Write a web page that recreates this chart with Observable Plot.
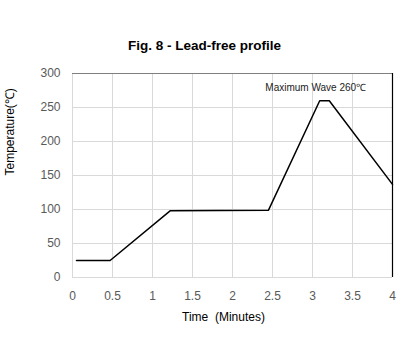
<!DOCTYPE html>
<html>
<head>
<meta charset="utf-8">
<script src="https://cdn.jsdelivr.net/npm/d3@7"></script>
<script src="https://cdn.jsdelivr.net/npm/@observablehq/plot@0.6"></script>
<style>
  html, body { margin: 0; padding: 0; background: #fff; }
  svg { display: block; }
</style>
</head>
<body>
<div id="chart"></div>
<script>
const title = "Fig. 8 - Lead-free profile";
const xLabel = "Time  (Minutes)";
const yLabel = "Temperature(℃)";
const timeMin = [0.05, 0.47, 1.22, 2.45, 3.09, 3.21, 4.0];
const tempC   = [25,   25,   98,   99,   260,  260,  137];
const xTicks = [0, 0.5, 1, 1.5, 2, 2.5, 3, 3.5, 4];
const yTicks = [0, 50, 100, 150, 200, 250, 300];
const noteText = "Maximum Wave 260℃";
const noteX = 2.41;
const noteY = 279;

const data = timeMin.map((t, i) => ({t, v: tempC[i]}));
const font = "Liberation Sans, Arial, sans-serif";

const chart = Plot.plot({
  width: 408,
  height: 354,
  marginLeft: 72,
  marginRight: 16,
  marginTop: 73,
  marginBottom: 77,
  style: {fontFamily: font, fontSize: "12px", background: "#fff"},
  x: {domain: [0, 4]},
  y: {domain: [0, 300]},
  marks: [
    Plot.gridX(xTicks, {stroke: "#d9d9d9", strokeOpacity: 1}),
    Plot.gridY(yTicks, {stroke: "#d9d9d9", strokeOpacity: 1}),
    Plot.ruleY([300], {stroke: "#7f7f7f", strokeWidth: 1}),
    Plot.ruleX([4], {stroke: "#000", strokeWidth: 1.2}),
    Plot.axisX(xTicks, {tickSize: 0, tickPadding: 14, fill: "#595959", label: null, fontSize: 12, tickFormat: d => String(d)}),
    Plot.axisY(yTicks, {tickSize: 0, tickPadding: 12, fill: "#595959", label: null, fontSize: 12, tickFormat: d => String(d)}),
    Plot.line(data, {x: "t", y: "v", stroke: "#000", strokeWidth: 1.5}),
    Plot.text([noteText], {x: noteX, y: noteY, text: d => d, textAnchor: "start", fontSize: 10, fill: "#222"}),
    Plot.text([title], {frameAnchor: "top", dx: -28, dy: -33, text: d => d, fontSize: 13.5, fontWeight: "bold", fill: "#000"}),
    Plot.text([xLabel], {frameAnchor: "bottom", dx: -9, dy: 43, text: d => d, fontSize: 12, fill: "#000"}),
    Plot.text([yLabel], {frameAnchor: "left", dx: -62, text: d => d, rotate: -90, fontSize: 12, fill: "#000"})
  ]
});
document.getElementById("chart").append(chart);
</script>
</body>
</html>
